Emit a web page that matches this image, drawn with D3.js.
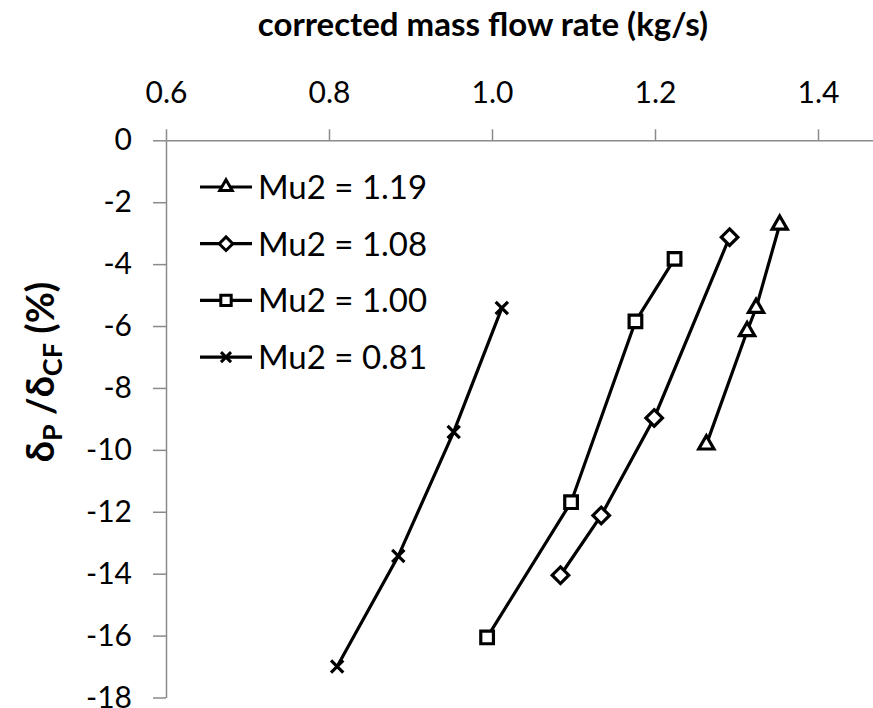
<!DOCTYPE html>
<html>
<head>
<meta charset="utf-8">
<script src="https://cdn.jsdelivr.net/npm/d3@7"></script>
<style>
  body { margin: 0; background: #fff; }
  svg { display: block; }
  text { font-family: Lato, "Open Sans", sans-serif; fill: #000; }
</style>
</head>
<body>
<div id="chart"></div>
<script>
// series: x = corrected mass flow rate (kg/s), y = dP/dCF (%)
let seriesNames = ["Mu2 = 1.19", "Mu2 = 1.08", "Mu2 = 1.00", "Mu2 = 0.81"]
let seriesMarkers = ["triangle", "diamond", "square", "cross"]

let flowMu119 = [1.263, 1.313, 1.324, 1.353]
let deltaMu119 = [-9.83, -6.17, -5.42, -2.73]

let flowMu108 = [1.084, 1.134, 1.199, 1.2915]
let deltaMu108 = [-14.05, -12.12, -8.97, -3.13]

let flowMu100 = [0.994, 1.097, 1.176, 1.224]
let deltaMu100 = [-16.06, -11.69, -5.85, -3.83]

let flowMu081 = [0.810, 0.885, 0.953, 1.012]
let deltaMu081 = [-17.0, -13.43, -9.42, -5.42]

let xTicks = [0.6, 0.8, 1.0, 1.2, 1.4]
let yTicks = [0, -2, -4, -6, -8, -10, -12, -14, -16, -18]

let allFlow = [flowMu119, flowMu108, flowMu100, flowMu081]
let allDelta = [deltaMu119, deltaMu108, deltaMu100, deltaMu081]

let series = seriesNames.map(function(name, i){
    return {
        name: name,
        marker: seriesMarkers[i],
        points: allFlow[i].map(function(f, j){ return {x: f, y: allDelta[i][j]} })
    }
})

const width = 873, height = 708
const axisColor = "#8a8a8a"

var svg = d3.select("#chart").append("svg")
    .attr("width", width)
    .attr("height", height)

// plot area: y axis at x=166, x axis at y of 0
var x = d3.scaleLinear().domain([0.6, 1.5]).range([166, 166 + 4.5 * 163])
var y = d3.scaleLinear().domain([-18, 0]).range([697.5, 140.3])

// marker shapes, excel style
function markerPath(type, scale){
    let s = scale || 1
    if (type == "triangle") return d3.symbol(d3.symbolTriangle, 100 * s * s)()
    if (type == "diamond") return d3.symbol(d3.symbolDiamond2, 175 * s * s)()
    if (type == "square") return d3.symbol(d3.symbolSquare, 160 * s * s)()
    return d3.symbol(d3.symbolTimes, 100 * s * s)()
}

// axes
var xAxis = svg.append("g")
    .attr("transform", "translate(0," + y(0) + ")")
    .call(d3.axisTop(x)
        .tickValues(xTicks)
        .tickFormat(d3.format(".1f"))
        .tickSize(11)
        .tickSizeOuter(0)
        .tickPadding(26))

var yAxis = svg.append("g")
    .attr("transform", "translate(" + x(0.6) + ",0)")
    .call(d3.axisLeft(y)
        .tickValues(yTicks)
        .tickFormat(d => String(d))
        .tickSize(13)
        .tickSizeOuter(0)
        .tickPadding(21))

svg.selectAll(".domain, .tick line")
    .attr("stroke", axisColor)
    .attr("stroke-width", 1.5)
svg.selectAll(".tick text")
    .style("font-family", "Lato, sans-serif")
    .style("font-size", "30px")
    .attr("fill", "#000")

// lines + markers
var line = d3.line().x(d => x(d.x)).y(d => y(d.y))

var seriesG = svg.selectAll(".series")
    .data(series)
    .enter().append("g")
    .attr("class", "series")

seriesG.append("path")
    .attr("d", d => line(d.points))
    .attr("fill", "none")
    .attr("stroke", "#000")
    .attr("stroke-width", 3.2)

seriesG.selectAll(".marker")
    .data(d => d.points.map(p => ({x: p.x, y: p.y, marker: d.marker})))
    .enter().append("path")
    .attr("class", "marker")
    .attr("transform", d => "translate(" + x(d.x) + "," + y(d.y) + ")")
    .attr("d", d => markerPath(d.marker))
    .attr("fill", "#fff")
    .attr("stroke", "#000")
    .attr("stroke-width", 3.2)

// legend
var legend = svg.append("g").attr("transform", "translate(200,187)")
var legendRow = legend.selectAll(".legendRow")
    .data(series)
    .enter().append("g")
    .attr("class", "legendRow")
    .attr("transform", (d, i) => "translate(0," + i * 56.7 + ")")

legendRow.append("line")
    .attr("x1", 0).attr("x2", 52)
    .attr("stroke", "#000")
    .attr("stroke-width", 3.2)
legendRow.append("path")
    .attr("transform", "translate(26,0)")
    .attr("d", d => markerPath(d.marker, 0.82))
    .attr("fill", "#fff")
    .attr("stroke", "#000")
    .attr("stroke-width", 3)
legendRow.append("text")
    .attr("x", 58)
    .attr("dy", "0.36em")
    .style("font-size", "33px")
    .text(d => d.name)

// axis titles
svg.append("text")
    .attr("x", 483)
    .attr("y", 36)
    .attr("text-anchor", "middle")
    .style("font-size", "33px")
    .style("font-weight", "bold")
    .text("corrected mass flow rate (kg/s)")

var yTitle = svg.append("text")
    .attr("transform", "translate(54,372) rotate(-90)")
    .attr("text-anchor", "middle")
    .style("font-size", "38px")
    .style("font-weight", "bold")
yTitle.append("tspan").text("δ")
yTitle.append("tspan").attr("dy", 8).style("font-size", "27px").text("P")
yTitle.append("tspan").attr("dy", -8).text(" /δ")
yTitle.append("tspan").attr("dy", 8).style("font-size", "27px").text("CF")
yTitle.append("tspan").attr("dy", -8).text(" (%)")
</script>
</body>
</html>
